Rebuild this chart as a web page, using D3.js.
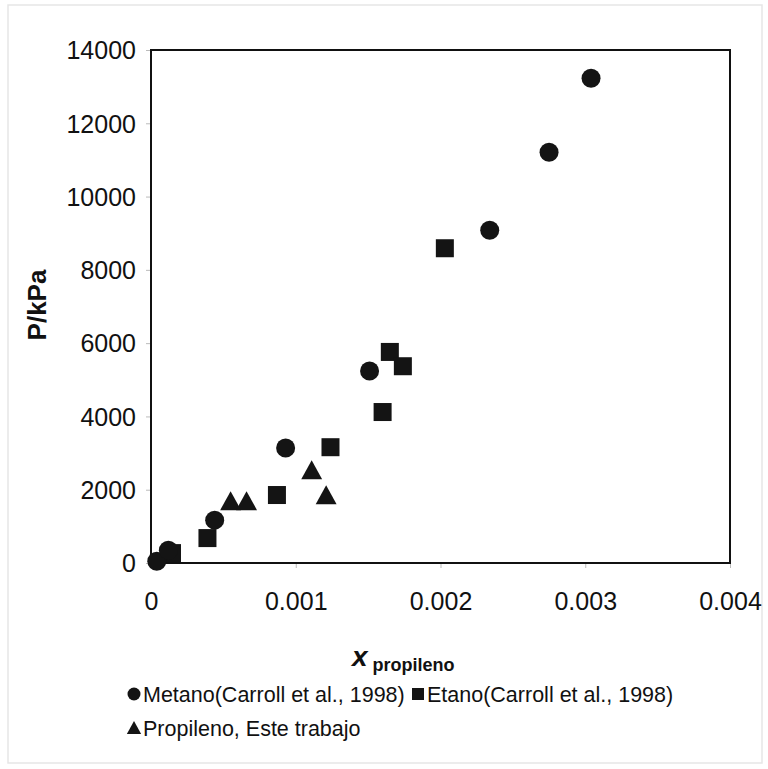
<!DOCTYPE html>
<html>
<head>
<meta charset="utf-8">
<script src="https://cdn.jsdelivr.net/npm/d3@7"></script>
<style>
  html, body { margin: 0; padding: 0; background: #fff; }
  svg { display: block; }
  text { font-family: "Liberation Sans", Arial, sans-serif; fill: #111; }
</style>
</head>
<body>
<svg id="chart" width="768" height="769"></svg>
<script>
// ---- Data ----
const metanoX = [0.00004, 0.00012, 0.00044, 0.00093, 0.00151, 0.00234, 0.00275, 0.00304];
const metanoY = [50, 350, 1170, 3140, 5240, 9080, 11210, 13230];

const etanoX = [0.000145, 0.00039, 0.00087, 0.00124, 0.00160, 0.00165, 0.00174, 0.00203];
const etanoY = [270, 680, 1855, 3160, 4120, 5760, 5370, 8590];

const propilenoX = [0.00055, 0.00066, 0.00111, 0.00121];
const propilenoY = [1640, 1640, 2480, 1800];

const xTicks = [0, 0.001, 0.002, 0.003, 0.004];
const xTickLabels = ["0", "0.001", "0.002", "0.003", "0.004"];
const yTicks = [0, 2000, 4000, 6000, 8000, 10000, 12000, 14000];

const legendLabels = ["Metano(Carroll et al., 1998)", "Etano(Carroll et al., 1998)", "Propileno, Este trabajo"];

// ---- Chart ----
const svg = d3.select("#chart");

// faint outer frame
svg.append("rect").attr("x", 8).attr("y", 5).attr("width", 754).attr("height", 758)
  .attr("fill", "none").attr("stroke", "#e6e6e6").attr("stroke-width", 1.5);

const x = d3.scaleLinear().domain([0, 0.004]).range([151, 730]);
const y = d3.scaleLinear().domain([0, 14000]).range([563, 50]);

// axes
const xAxis = d3.axisBottom(x).tickValues(xTicks).tickFormat((d, i) => xTickLabels[i]).tickSize(5).tickPadding(24);
const yAxis = d3.axisLeft(y).tickValues(yTicks).tickFormat(d3.format("d")).tickSize(5).tickPadding(10);

const gx = svg.append("g").attr("transform", `translate(0,${y(0)})`).call(xAxis);
const gy = svg.append("g").attr("transform", `translate(${x(0)},0)`).call(yAxis);
[gx, gy].forEach(g => {
  g.select(".domain").remove();
  g.selectAll(".tick line").attr("stroke", "#bbb").attr("stroke-width", 1);
  g.selectAll(".tick text").style("font-size", "25px").attr("fill", "#111")
    .style("font-family", '"Liberation Sans", Arial, sans-serif');
});
gy.selectAll(".tick text").attr("dy", "0.35em");

// plot frame
svg.append("rect")
  .attr("x", x(0)).attr("y", y(14000))
  .attr("width", x(0.004) - x(0)).attr("height", y(0) - y(14000))
  .attr("fill", "none").attr("stroke", "#111").attr("stroke-width", 2);

const markerFill = "#141414";
const triPath = (s) => `M0,${-s * 0.62}L${s * 0.55},${s * 0.38}L${-s * 0.55},${s * 0.38}Z`;

// Etano squares
svg.append("g").selectAll("rect").data(etanoX.map((v, i) => [v, etanoY[i]])).join("rect")
  .attr("x", d => x(d[0]) - 9).attr("y", d => y(d[1]) - 9)
  .attr("width", 18).attr("height", 18).attr("fill", markerFill);

// Metano circles
svg.append("g").selectAll("circle").data(metanoX.map((v, i) => [v, metanoY[i]])).join("circle")
  .attr("cx", d => x(d[0])).attr("cy", d => y(d[1])).attr("r", 9.5).attr("fill", markerFill);

// Propileno triangles
svg.append("g").selectAll("path").data(propilenoX.map((v, i) => [v, propilenoY[i]])).join("path")
  .attr("transform", d => `translate(${x(d[0])},${y(d[1])})`)
  .attr("d", triPath(19)).attr("fill", markerFill);

// Y axis title
svg.append("text")
  .attr("transform", "translate(46,305) rotate(-90)")
  .attr("text-anchor", "middle")
  .style("font-size", "26px").style("font-weight", "bold")
  .text("P/kPa");

// X axis title
const xt = svg.append("text").attr("x", 352).attr("y", 666).style("font-weight", "bold");
xt.append("tspan").style("font-size", "28px").style("font-style", "italic").text("x");
xt.append("tspan").attr("dx", 5).attr("dy", 5).style("font-size", "18px").text("propileno");

// Legend
const lg = svg.append("g");
lg.append("circle").attr("cx", 134).attr("cy", 694).attr("r", 6.5).attr("fill", markerFill);
lg.append("text").attr("x", 143).attr("y", 702).style("font-size", "21.5px").text(legendLabels[0]);
lg.append("rect").attr("x", 412).attr("y", 688).attr("width", 12).attr("height", 12).attr("fill", markerFill);
lg.append("text").attr("x", 427).attr("y", 702).style("font-size", "21.5px").text(legendLabels[1]);
lg.append("path").attr("transform", "translate(134,729)").attr("d", triPath(13)).attr("fill", markerFill);
lg.append("text").attr("x", 143).attr("y", 736).style("font-size", "21.5px").text(legendLabels[2]);
</script>
</body>
</html>
